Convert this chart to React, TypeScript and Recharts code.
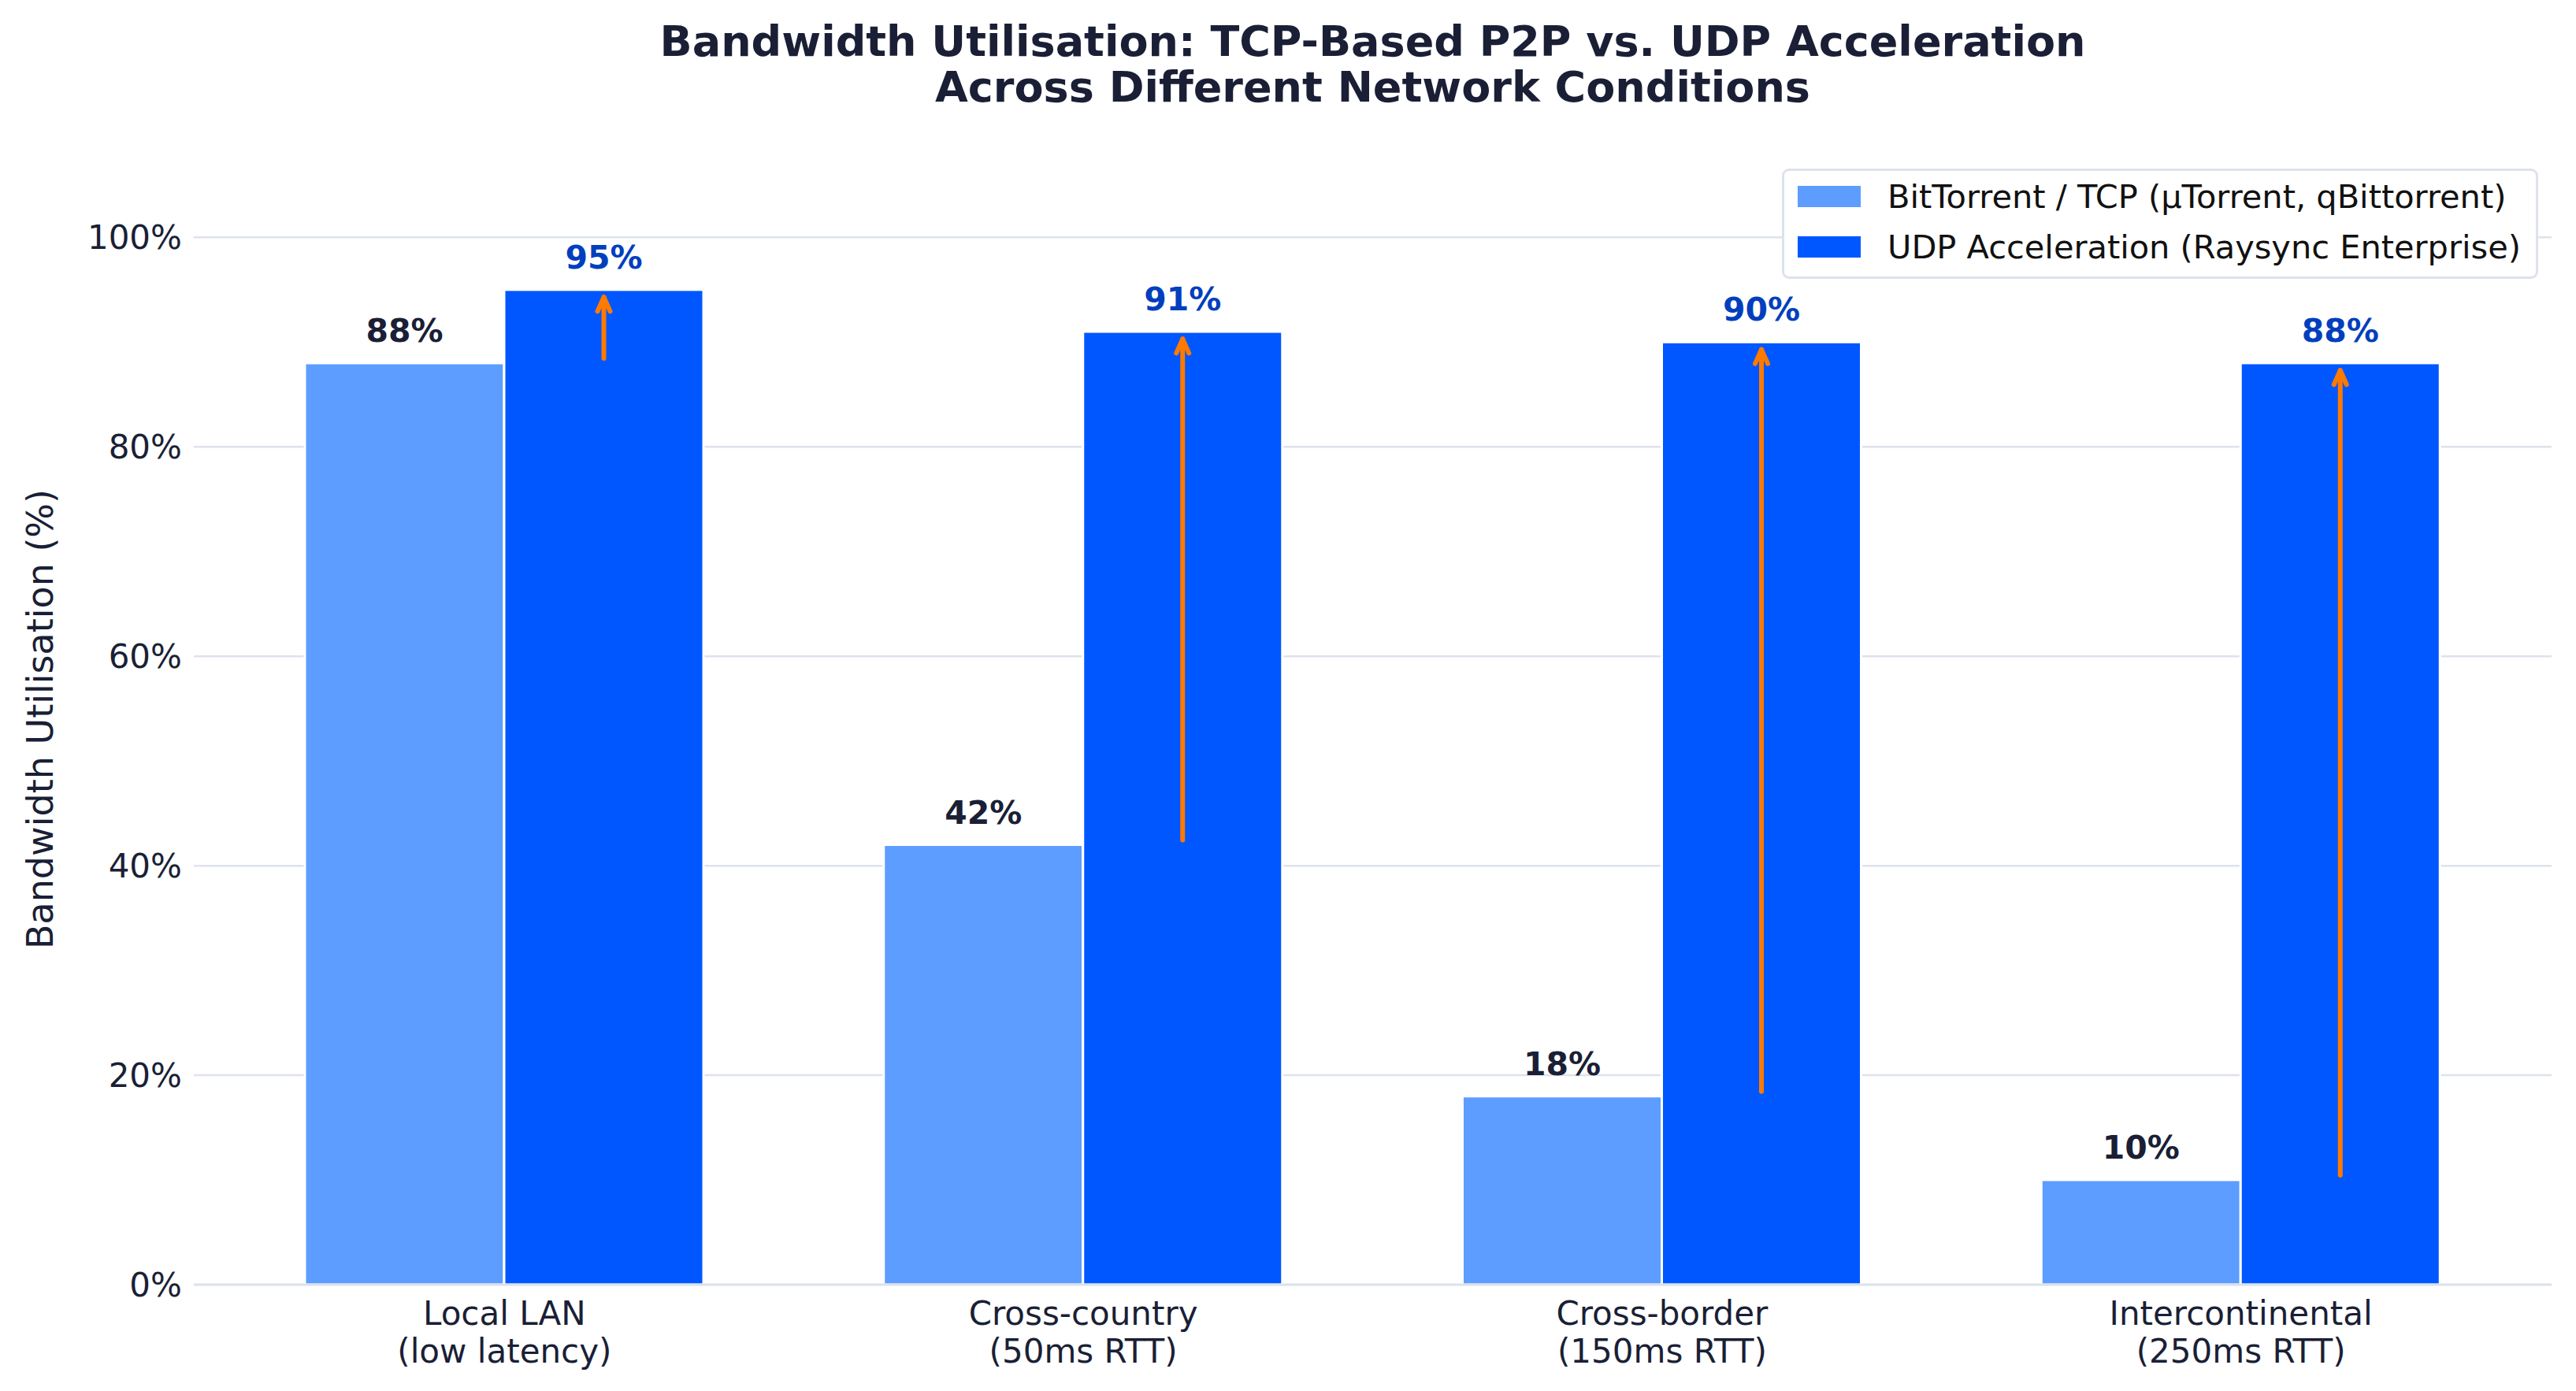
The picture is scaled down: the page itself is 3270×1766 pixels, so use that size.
import React from "react";
import {
  BarChart,
  Bar,
  XAxis,
  YAxis,
  CartesianGrid,
  Legend,
  LabelList,
} from "recharts";

const categories = [
  "Local LAN\n(low latency)",
  "Cross-country\n(50ms RTT)",
  "Cross-border\n(150ms RTT)",
  "Intercontinental\n(250ms RTT)",
];
const tcpValues = [88, 42, 18, 10];
const udpValues = [95, 91, 90, 88];
const yTicks = [0, 20, 40, 60, 80, 100];

const seriesNames = {
  tcp: "BitTorrent / TCP (µTorrent, qBittorrent)",
  udp: "UDP Acceleration (Raysync Enterprise)",
};

const data = categories.map((name, i) => ({
  name,
  tcp: tcpValues[i],
  udp: udpValues[i],
}));

const FONT = "'DejaVu Sans', sans-serif";
const INK = "#1a1f36";
const GRID = "#dde2ec";
const TCP_COLOR = "#5c9dff";
const UDP_COLOR = "#0057ff";
const UDP_LABEL = "#003fbd";
const ARROW = "#ff7a00";

function XTick(props: any) {
  const { x, y, payload } = props;
  const lines = String(payload.value).split("\n");
  return (
    <text x={x} y={y} textAnchor="middle" fill={INK} fontSize={42} fontFamily={FONT}>
      {lines.map((l: string, i: number) => (
        <tspan key={i} x={x} dy={i === 0 ? 49 : 48}>
          {l}
        </tspan>
      ))}
    </text>
  );
}

// UDP bar plus the orange "improvement" arrow from the TCP level up to the UDP level
function UdpShape(props: any) {
  const { x, y, width, height, payload } = props;
  const ppu = height / payload.udp;
  const base = y + height;
  const cx = x + width / 2;
  const tail = base - (payload.tcp + 0.45) * ppu;
  const tip = base - (payload.udp - 0.7) * ppu;
  return (
    <g>
      <rect x={x} y={y} width={width} height={height} fill={UDP_COLOR} stroke="#fff" strokeWidth={3} />
      <line x1={cx} y1={tail} x2={cx} y2={tip} stroke={ARROW} strokeWidth={6} strokeLinecap="round" />
      <polyline
        points={`${cx - 8},${tip + 18} ${cx},${tip} ${cx + 8},${tip + 18}`}
        fill="none"
        stroke={ARROW}
        strokeWidth={6}
        strokeLinecap="round"
        strokeLinejoin="round"
      />
    </g>
  );
}

const valueLabel = (color: string) => (props: any) => {
  const { x, y, width, value } = props;
  return (
    <text
      x={x + width / 2}
      y={y - 27}
      textAnchor="middle"
      fill={color}
      fontSize={41}
      fontWeight="bold"
      fontFamily={FONT}
    >
      {`${value}%`}
    </text>
  );
};

function LegendBox(props: any) {
  const items = props.payload || [];
  return (
    <div
      style={{
        width: 954,
        height: 134,
        border: `3px solid ${GRID}`,
        borderRadius: 9,
        background: "#fff",
        boxSizing: "content-box",
        fontFamily: FONT,
        fontSize: 41.5,
        color: "#111",
        paddingTop: 0,
      }}
    >
      {items.map((it: any) => (
        <div key={it.value} style={{ display: "flex", alignItems: "center", height: 64 }}>
          <div style={{ width: 80, height: 27, background: it.color, marginLeft: 17, marginRight: 34 }} />
          <span style={{ whiteSpace: "nowrap" }}>{it.value}</span>
        </div>
      ))}
    </div>
  );
}

export default function App() {
  return (
    <div
      style={{
        position: "absolute",
        left: 0,
        top: 0,
        width: 3270,
        height: 1766,
        background: "#fff",
        fontFamily: FONT,
      }}
    >
      <div
        style={{
          position: "absolute",
          left: 246,
          width: 2993,
          top: 24,
          textAlign: "center",
          fontSize: 54,
          fontWeight: "bold",
          color: INK,
          lineHeight: "58px",
        }}
      >
        Bandwidth Utilisation: TCP-Based P2P vs. UDP Acceleration
        <br />
        Across Different Network Conditions
      </div>
      <div
        style={{
          position: "absolute",
          left: 51,
          top: 913,
          transform: "translate(-50%, -50%) rotate(-90deg)",
          whiteSpace: "nowrap",
          fontSize: 46,
          color: INK,
        }}
      >
        Bandwidth Utilisation (%)
      </div>
      <div style={{ position: "absolute", left: 0, top: 0 }}>
        <BarChart
          width={3270}
          height={1766}
          data={data}
          margin={{ top: 195, right: 31, bottom: 0, left: 0 }}
          barCategoryGap={114}
          barGap={0}
        >
          <CartesianGrid
            horizontal
            vertical={false}
            horizontalValues={yTicks}
            stroke={GRID}
            strokeWidth={2.5}
          />
          <XAxis
            dataKey="name"
            height={135}
            interval={0}
            tick={<XTick />}
            tickLine={false}
            tickSize={0}
            axisLine={{ stroke: GRID, strokeWidth: 3 }}
            padding={{ left: 27, right: 27 }}
          />
          <YAxis
            width={246}
            domain={[0, 108]}
            ticks={yTicks}
            allowDataOverflow
            tickFormatter={(v: number) => `${v}%`}
            tick={{ fill: INK, fontSize: 42, fontFamily: FONT }}
            tickLine={false}
            tickSize={13}
            axisLine={false}
          />
          <Legend
            layout="vertical"
            align="center"
            verticalAlign="middle"
            content={<LegendBox />}
            wrapperStyle={{ position: "absolute", top: 214, left: 2262, width: 960, height: 140 }}
          />
          <Bar
            dataKey="tcp"
            name={seriesNames.tcp}
            fill={TCP_COLOR}
            stroke="#fff"
            strokeWidth={3}
            isAnimationActive={false}
          >
            <LabelList dataKey="tcp" content={valueLabel(INK)} />
          </Bar>
          <Bar
            dataKey="udp"
            name={seriesNames.udp}
            fill={UDP_COLOR}
            shape={<UdpShape />}
            isAnimationActive={false}
          >
            <LabelList dataKey="udp" content={valueLabel(UDP_LABEL)} />
          </Bar>
        </BarChart>
      </div>
    </div>
  );
}
